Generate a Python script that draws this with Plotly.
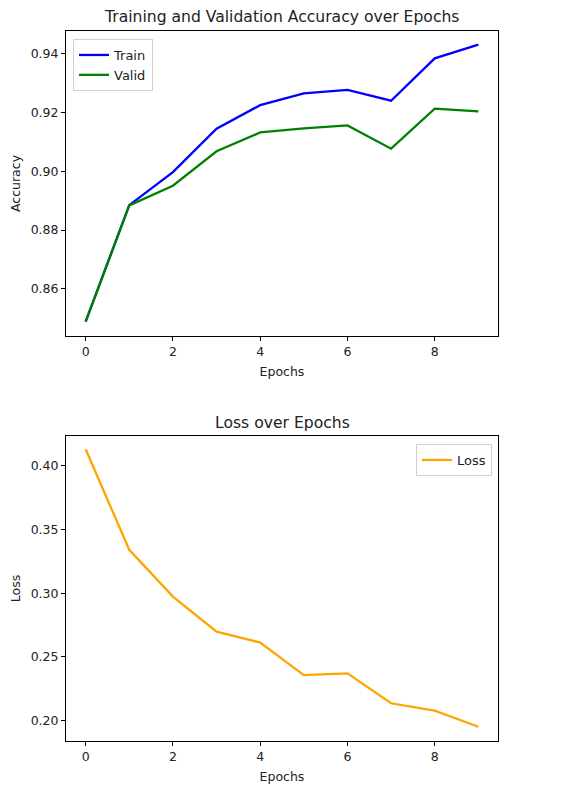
import plotly.graph_objects as go
from plotly.subplots import make_subplots

epochs = list(range(10))
train_acc = [0.8489, 0.8885, 0.8997, 0.9145, 0.9225, 0.9265, 0.9277, 0.9240, 0.9384, 0.9431]
valid_acc = [0.8489, 0.8884, 0.8951, 0.9068, 0.9132, 0.9146, 0.9156, 0.9077, 0.9213, 0.9204]
loss = [0.4129, 0.3340, 0.2973, 0.2698, 0.2612, 0.2357, 0.2371, 0.2136, 0.2078, 0.1952]

FONT = "DejaVu Sans"
# the page body has an 8px margin, so the figure is a bit smaller and shifted
OFF = 8
W, H = 567 - 2 * OFF, 792 - 2 * OFF


def px(x):
    return (x - OFF) / W


def py(y):
    return 1 - (y - OFF) / H


fig = make_subplots(rows=2, cols=1)

fig.add_trace(go.Scatter(x=epochs, y=train_acc, mode='lines', name='Train',
                         line=dict(color='blue', width=2.3), legend='legend'), row=1, col=1)
fig.add_trace(go.Scatter(x=epochs, y=valid_acc, mode='lines', name='Valid',
                         line=dict(color='green', width=2.3), legend='legend'), row=1, col=1)
fig.add_trace(go.Scatter(x=epochs, y=loss, mode='lines', name='Loss',
                         line=dict(color='orange', width=2.3), legend='legend2'), row=2, col=1)

axis_style = dict(showline=True, mirror=True, linecolor='black', linewidth=1,
                  ticks='outside', ticklen=4, tickcolor='black', showgrid=False,
                  zeroline=False, tickfont=dict(family=FONT, size=12.5, color='#222'))
label_font = dict(family=FONT, size=12.5, color='#222')

fig.update_xaxes(**axis_style, range=[-0.45, 9.45], tickvals=[0, 2, 4, 6, 8],
                 domain=[px(66), px(498)],
                 title=dict(text='Epochs', font=label_font, standoff=9))
fig.update_yaxes(**axis_style)
fig.update_yaxes(range=[0.8440, 0.9477], tickvals=[0.86, 0.88, 0.90, 0.92, 0.94], tickformat='.2f',
                 domain=[py(336), py(31)],
                 title=dict(text='Accuracy', font=label_font, standoff=8),
                 row=1, col=1)
fig.update_yaxes(range=[0.184, 0.4233], tickvals=[0.20, 0.25, 0.30, 0.35, 0.40], tickformat='.2f',
                 domain=[py(741), py(436)],
                 title=dict(text='Loss', font=label_font, standoff=8),
                 row=2, col=1)

legend_style = dict(bgcolor='rgba(255,255,255,0.8)', bordercolor='#d0d0d0', borderwidth=1,
                    font=dict(family=FONT, size=13, color='#222'), tracegroupgap=0)

title_font = dict(family=FONT, size=15.6, color='#222')

fig.update_layout(
    width=W, height=H,
    margin=dict(l=0, r=0, t=0, b=0),
    paper_bgcolor='white', plot_bgcolor='white',
    font=dict(family=FONT, color='#222'),
    legend=dict(**legend_style, x=px(73), y=py(39), xanchor='left', yanchor='top'),
    legend2=dict(**legend_style, x=px(492), y=py(444), xanchor='right', yanchor='top'),
    annotations=[
        dict(text='Training and Validation Accuracy over Epochs', x=px(282), y=py(17),
             xref='paper', yref='paper', showarrow=False, yanchor='middle', font=title_font),
        dict(text='Loss over Epochs', x=px(282), y=py(423),
             xref='paper', yref='paper', showarrow=False, yanchor='middle', font=title_font),
    ],
)

fig.write_html("out.html")
